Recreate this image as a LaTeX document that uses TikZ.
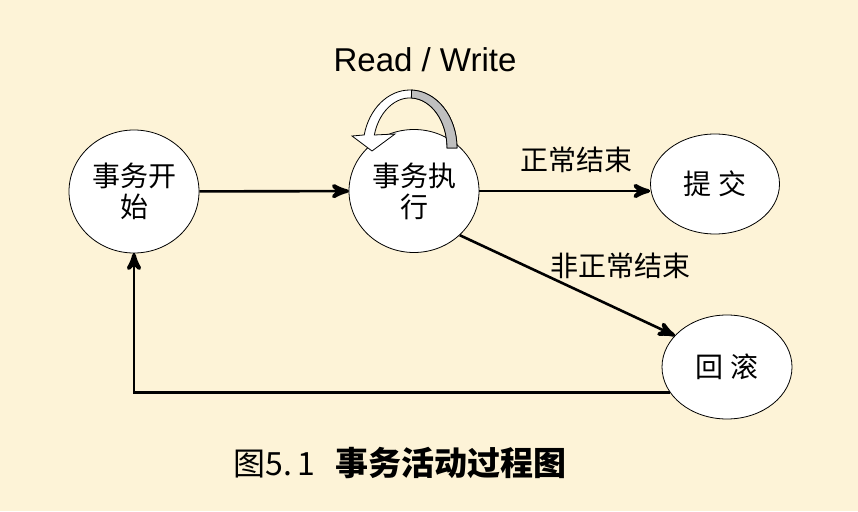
\documentclass[tikz,border=0pt]{standalone}
\usepackage{fontspec}
\setmainfont{Liberation Serif}
\newfontfamily\cjk{Noto Sans CJK SC}
\newfontfamily\arial{Liberation Sans}
\usetikzlibrary{arrows}
\usetikzlibrary{decorations.markings}
\usetikzlibrary{positioning}
\usetikzlibrary{shapes.geometric}
\definecolor{parchment}{RGB}{253,243,215}
\tikzset{arr/.style = {line width = 2.6,
                       decoration = {markings,
                                     mark = at position 1 with {\arrow[scale=1.5]{stealth'}}},
                       postaction = {decorate}}}
\tikzset{state/.style = {ellipse, draw, fill = white, line width = 0.8,
                         align = center, inner sep = 0,
                         font = \cjk\fontsize{28}{31}\selectfont}}
\tikzset{lbl/.style = {font = \cjk\fontsize{28}{32}\selectfont}}

\begin{document}
\begin{tikzpicture}[x = 1pt, y = 1pt]
      \fill [parchment] (0, 0) rectangle (858, 511);
      \useasboundingbox (0, 0) rectangle (858, 511);

      \node [state, minimum width = 130, minimum height = 123] (start) at (134, 319.5) {事务开\\始};
      \node [state, minimum width = 130, minimum height = 123] (exec) at (414, 320) {事务执\\行};
      \node [state, minimum width = 129, minimum height = 100] (commit) at (715, 327) {提 交};
      \node [state, minimum width = 130, minimum height = 104] (rollback) at (727, 144) {回 滚};

      \draw [arr] (start) -- (exec);
      \draw [arr] (exec.east) -- (exec.east -| commit.west)
        node [lbl, pos = 0.57, yshift = 31] (normal) {正常结束};
      \draw [arr] (exec.-44) -- (rollback.149)
        node [lbl, pos = 0.75, yshift = 45] (abort) {非正常结束};
      \draw [arr] (rollback.204) -| (start.south);

      % read / write loop
      \filldraw [fill = white, line width = 0.8]
        (457, 363) arc [start angle = 0, end angle = 167, x radius = 47, y radius = 58]
        -- (352, 375) -- (372, 360) -- (395, 377) -- (374.3, 376)
        arc [start angle = 165, end angle = 0, x radius = 37, y radius = 50] -- cycle;
      \filldraw [fill = black!25, line width = 0.8]
        (457, 363) arc [start angle = 0, end angle = 88, x radius = 47, y radius = 58]
        -- (411.3, 413) arc [start angle = 88, end angle = 0, x radius = 37, y radius = 50] -- cycle;
      \node [font = \arial\fontsize{33}{36}\selectfont] (rw) at (425, 451) {Read / Write};

      \node [font = \cjk\fontsize{32}{36}\selectfont, anchor = west] (caption) at (230, 48)
        {图5.\,1\hspace{20pt}{\fontsize{33}{36}\selectfont\bfseries 事务活动过程图}};
    \end{tikzpicture}
\end{document}
